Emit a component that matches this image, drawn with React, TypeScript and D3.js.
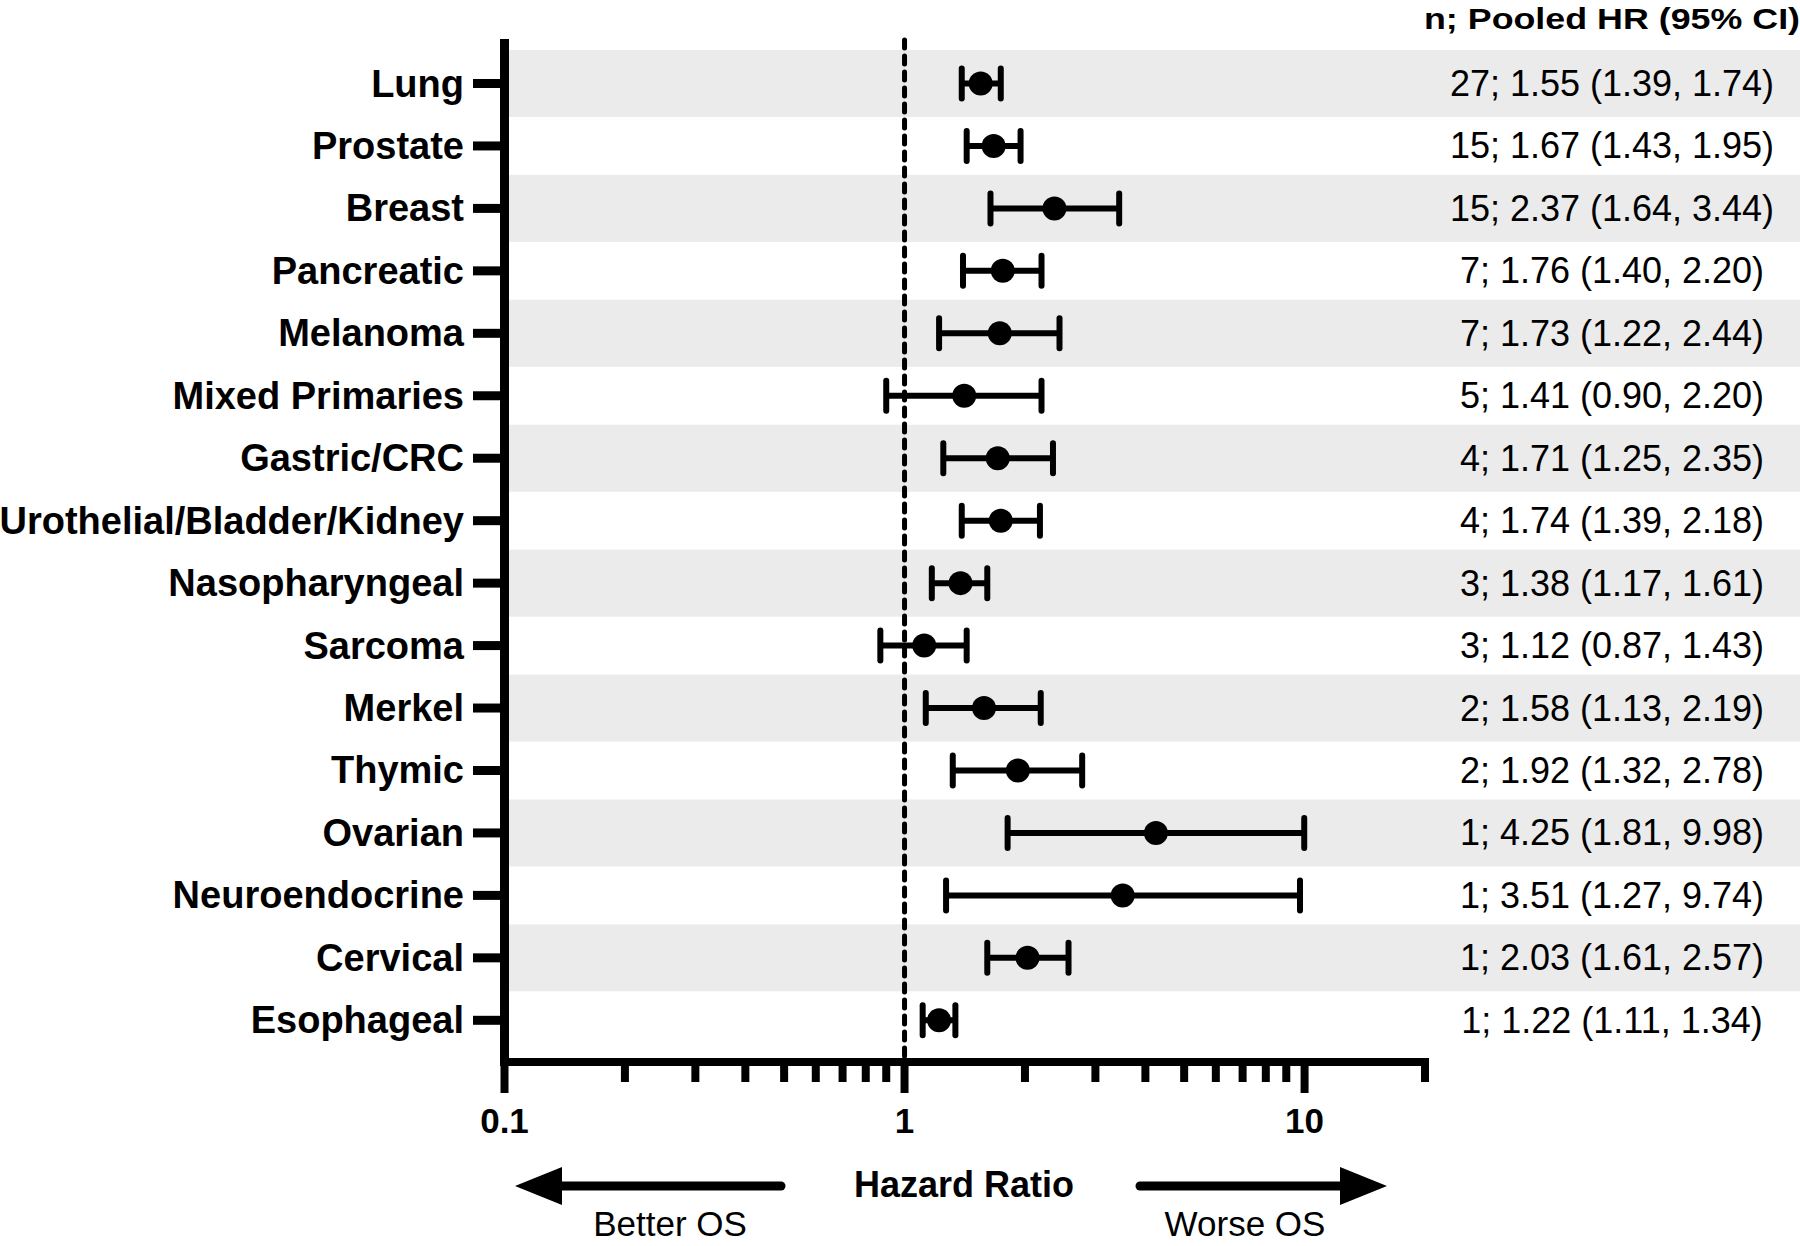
import * as d3 from 'd3'

const categories = [
  'Lung',
  'Prostate',
  'Breast',
  'Pancreatic',
  'Melanoma',
  'Mixed Primaries',
  'Gastric/CRC',
  'Urothelial/Bladder/Kidney',
  'Nasopharyngeal',
  'Sarcoma',
  'Merkel',
  'Thymic',
  'Ovarian',
  'Neuroendocrine',
  'Cervical',
  'Esophageal',
]
const studies = [27, 15, 15, 7, 7, 5, 4, 4, 3, 3, 2, 2, 1, 1, 1, 1]
const hr = [1.55, 1.67, 2.37, 1.76, 1.73, 1.41, 1.71, 1.74, 1.38, 1.12, 1.58, 1.92, 4.25, 3.51, 2.03, 1.22]
const lower = [1.39, 1.43, 1.64, 1.4, 1.22, 0.9, 1.25, 1.39, 1.17, 0.87, 1.13, 1.32, 1.81, 1.27, 1.61, 1.11]
const upper = [1.74, 1.95, 3.44, 2.2, 2.44, 2.2, 2.35, 2.18, 1.61, 1.43, 2.19, 2.78, 9.98, 9.74, 2.57, 1.34]
const majorTicks = [0.1, 1, 10]

const W = 1800
const H = 1246
const FONT = "'Liberation Sans', Arial, Helvetica, sans-serif"

export default function App() {
  const x = d3.scaleLog().domain([0.1, 20]).range([504.5, 1425])
  const y = d3.scalePoint<string>().domain(categories).range([83.5, 1020.3])
  const axisY = 1062
  const axisX = x(0.1)
  const fmt = d3.format('.2f')
  const colX = 1612

  const rows = categories.map((c, i) => ({
    c,
    n: studies[i],
    hr: hr[i],
    lo: lower[i],
    hi: upper[i],
    y: y(c) as number,
    i,
  }))

  const arrowY = 1186

  return (
    <div style={{ position: 'absolute', left: 0, top: 0 }}>
      <svg width={W} height={H} viewBox={`0 0 ${W} ${H}`} style={{ display: 'block', background: '#fff' }}>
        {/* alternating bands */}
        {rows
          .filter((r) => r.i % 2 === 0)
          .map((r) => (
            <rect key={'b' + r.c} x={axisX + 4.5} y={r.y - 33.5} width={W - axisX} height={67} fill="#ebebeb" />
          ))}

        {/* reference line at HR = 1 */}
        <line
          x1={x(1)}
          x2={x(1)}
          y1={40}
          y2={axisY - 6}
          stroke="#000"
          strokeWidth={5}
          strokeDasharray="8 8"
          strokeLinecap="round"
        />

        {/* y axis */}
        <line x1={axisX} x2={axisX} y1={39} y2={axisY + 4} stroke="#000" strokeWidth={9} />
        {rows.map((r) => (
          <g key={'t' + r.c}>
            <line x1={473} x2={axisX} y1={r.y} y2={r.y} stroke="#000" strokeWidth={9} />
            <text
              x={464}
              y={r.y + 13}
              textAnchor="end"
              fontFamily={FONT}
              fontWeight="bold"
              fontSize={38}
              fill="#000"
            >
              {r.c}
            </text>
          </g>
        ))}

        {/* x axis */}
        <line x1={axisX - 4.5} x2={x(20) + 4} y1={axisY} y2={axisY} stroke="#000" strokeWidth={8} />
        {x.ticks().map((t) => {
          const major = majorTicks.includes(t)
          return (
            <line
              key={'x' + t}
              x1={x(t)}
              x2={x(t)}
              y1={axisY}
              y2={major ? 1093 : 1082}
              stroke="#000"
              strokeWidth={8}
            />
          )
        })}
        {majorTicks.map((t) => (
          <text
            key={'xl' + t}
            x={x(t)}
            y={1133}
            textAnchor="middle"
            fontFamily={FONT}
            fontWeight="bold"
            fontSize={35}
            fill="#000"
          >
            {String(t)}
          </text>
        ))}

        {/* error bars and points */}
        {rows.map((r) => (
          <g key={'e' + r.c} stroke="#000" strokeWidth={6}>
            <line x1={x(r.lo)} x2={x(r.hi)} y1={r.y} y2={r.y} />
            <line x1={x(r.lo)} x2={x(r.lo)} y1={r.y - 15} y2={r.y + 15} strokeLinecap="round" />
            <line x1={x(r.hi)} x2={x(r.hi)} y1={r.y - 15} y2={r.y + 15} strokeLinecap="round" />
            <circle cx={x(r.hr)} cy={r.y} r={12} fill="#000" stroke="none" />
          </g>
        ))}

        {/* right-hand column */}
        <text
          x={colX}
          y={29}
          textAnchor="middle"
          fontFamily={FONT}
          fontWeight="bold"
          fontSize={30}
          textLength={376}
          lengthAdjust="spacingAndGlyphs"
          fill="#000"
        >
          n; Pooled HR (95% CI)
        </text>
        {rows.map((r) => (
          <text
            key={'v' + r.c}
            x={colX}
            y={r.y + 12.5}
            textAnchor="middle"
            fontFamily={FONT}
            fontSize={36}
            fill="#000"
          >
            {`${r.n}; ${fmt(r.hr)} (${fmt(r.lo)}, ${fmt(r.hi)})`}
          </text>
        ))}

        {/* direction arrows */}
        <line x1={561} x2={781} y1={arrowY} y2={arrowY} stroke="#000" strokeWidth={9} strokeLinecap="round" />
        <path d={`M515,${arrowY} L562,${arrowY - 19} L562,${arrowY + 19} Z`} fill="#000" />
        <line x1={1140} x2={1342} y1={arrowY} y2={arrowY} stroke="#000" strokeWidth={9} strokeLinecap="round" />
        <path d={`M1387,${arrowY} L1340,${arrowY - 19} L1340,${arrowY + 19} Z`} fill="#000" />

        <text x={964} y={1197} textAnchor="middle" fontFamily={FONT} fontWeight="bold" fontSize={36} fill="#000">
          Hazard Ratio
        </text>
        <text x={670} y={1236} textAnchor="middle" fontFamily={FONT} fontSize={35} fill="#000">
          Better OS
        </text>
        <text x={1245} y={1236} textAnchor="middle" fontFamily={FONT} fontSize={35} fill="#000">
          Worse OS
        </text>
      </svg>
    </div>
  )
}
